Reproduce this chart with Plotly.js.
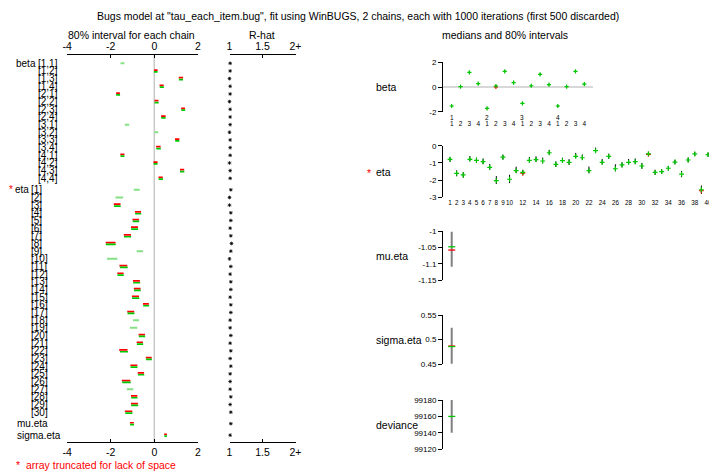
<!DOCTYPE html>
<html><head><meta charset="utf-8">
<script src="https://cdn.plot.ly/plotly-3.0.1.min.js"></script>
<style>html,body{margin:0;padding:0;background:#fff}#chart{width:709px;height:471px}</style>
</head><body><div id="chart"></div>
<script>
// ---------------- data ----------------
const betaIdx = ["1,1","1,2","1,3","1,4","2,1","2,2","2,3","2,4","3,1","3,2","3,3","3,4","4,1","4,2","4,3","4,4"];
// chain 1 (red) and chain 2 (green) 80% intervals, left panel
const betaRedLo   = [null,-0.01,1.12,0.24,-1.75,0.01,1.23,0.31,null,null,0.95,0.08,-1.56,-0.04,1.18,0.19];
const betaRedHi   = [null, 0.15,1.32,0.43,-1.58,0.19,1.41,0.52,null,null,1.15,0.29,-1.37, 0.15,1.37,0.39];
const betaGreenLo = [-1.55,-0.02,1.13,0.25,-1.75,0.01,1.24,0.32,-1.35,0.01,0.96,0.09,-1.55,-0.03,1.18,0.20];
const betaGreenHi = [-1.37, 0.15,1.32,0.44,-1.57,0.20,1.42,0.52,-1.15,0.18,1.15,0.30,-1.37, 0.15,1.38,0.40];

const etaIdx = ["1","2","3","4","5","6","7","8","9","10","11","12","13","14","15","16","17","18","19","20","21","22","23","24","25","26","27","28","29","30"];
const etaRedLo   = [null,null,-1.86,-0.89,-1.00,-1.07,-1.40,-2.23,null,null,-1.60,-1.70,-0.98,-0.94,-1.03,-0.52,-1.24,null,null,-0.72,-0.81,-1.61,-0.39,-1.10,-0.76,-1.49,null,-1.07,-1.07,-1.35];
const etaRedHi   = [null,null,-1.55,-0.61,-0.70,-0.75,-1.07,-1.78,null,null,-1.24,-1.41,-0.66,-0.63,-0.70,-0.25,-0.92,null,null,-0.43,-0.52,-1.23,-0.12,-0.78,-0.47,-1.10,null,-0.78,-0.75,-1.01];
const etaGreenLo = [-0.94,-1.78,-1.85,-0.88,-0.99,-1.06,-1.39,-2.22,-0.81,-2.17,-1.58,-1.69,-0.97,-0.93,-1.02,-0.51,-1.23,-0.98,-1.12,-0.71,-0.80,-1.58,-0.38,-1.09,-0.75,-1.47,-1.26,-1.06,-1.06,-1.33];
const etaGreenHi = [-0.67,-1.43,-1.54,-0.60,-0.69,-0.74,-1.06,-1.77,-0.52,-1.69,-1.22,-1.40,-0.65,-0.62,-0.69,-0.24,-0.91,-0.70,-0.78,-0.42,-0.51,-1.21,-0.11,-0.77,-0.46,-1.08,-0.96,-0.77,-0.74,-1.00];

const scalarNames = ["mu.eta","sigma.eta"];
const scalarRedLo   = [-1.12,0.45];
const scalarRedHi   = [-0.94,0.58];
const scalarGreenLo = [-1.11,0.46];
const scalarGreenHi = [-0.93,0.58];

const rhatBeta = [1.01,1.01,1.00,1.01,1.01,1.00,1.01,1.01,1.01,1.00,1.01,1.01,1.01,1.00,1.01,1.01];
const rhatEta  = [1.02,1.00,1.00,1.02,1.02,1.01,1.02,1.03,1.02,1.00,1.02,1.01,1.02,1.02,1.01,1.02,1.02,1.01,1.01,1.02,1.01,1.02,1.01,1.02,1.01,1.01,1.01,1.02,1.01,1.02];
const rhatScalar = [1.02,1.01];

// right panel: medians and 80% intervals
const betaMedGreen = [-1.54,0.03,1.19,0.27,-1.73,0.08,1.27,0.35,-1.32,0.10,1.03,0.19,-1.54,0.03,1.27,0.24];
const betaMedRed   = [-1.54,0.03,1.19,0.27,-1.73,0.00,1.27,0.35,-1.32,0.10,1.03,0.19,-1.54,0.03,1.27,0.24];
const betaIntLo    = [-1.62,-0.05,1.11,0.19,-1.81,0.00,1.19,0.27,-1.40,0.02,0.95,0.11,-1.62,-0.05,1.19,0.16];
const betaIntHi    = [-1.46,0.11,1.27,0.35,-1.65,0.16,1.35,0.43,-1.24,0.18,1.11,0.27,-1.46,0.11,1.35,0.32];

const etaMedGreen = [-0.79,-1.61,-1.70,-0.79,-0.85,-0.93,-1.26,-2.03,-0.67,-1.95,-1.45,-1.55,-0.85,-0.81,-0.89,-0.41,-1.08,-0.87,-0.97,-0.62,-0.70,-1.45,-0.29,-0.97,-0.62,-1.34,-1.12,-0.97,-0.93,-1.18,-0.47,-1.55,-1.51,-1.31,-0.95,-1.65,-0.83,-0.48,-2.56,-0.52];
const etaMedRed   = [-0.79,-1.61,-1.70,-0.79,-0.85,-0.93,-1.26,-2.03,-0.67,-1.95,-1.45,-1.60,-0.85,-0.81,-0.89,-0.41,-1.08,-0.87,-0.97,-0.62,-0.70,-1.45,-0.29,-0.97,-0.62,-1.34,-1.12,-0.97,-0.93,-1.18,-0.50,-1.55,-1.51,-1.31,-0.95,-1.65,-0.83,-0.48,-2.62,-0.52];
const etaIntLo = [-0.94,-1.78,-1.86,-0.89,-1.00,-1.07,-1.40,-2.23,-0.81,-2.17,-1.60,-1.70,-0.98,-0.94,-1.03,-0.52,-1.24,-0.98,-1.12,-0.72,-0.81,-1.61,-0.39,-1.10,-0.76,-1.49,-1.26,-1.07,-1.07,-1.35,-0.58,-1.70,-1.64,-1.44,-1.08,-1.83,-0.97,-0.60,-2.80,-0.64];
const etaIntHi = [-0.67,-1.43,-1.54,-0.60,-0.69,-0.74,-1.06,-1.77,-0.52,-1.69,-1.22,-1.40,-0.65,-0.62,-0.69,-0.24,-0.91,-0.70,-0.78,-0.42,-0.51,-1.21,-0.11,-0.77,-0.46,-1.08,-0.96,-0.77,-0.74,-1.00,-0.38,-1.40,-1.38,-1.18,-0.82,-1.47,-0.69,-0.36,-2.32,-0.40];
const etaTickLabels = ["1","2","3","4","5","6","7","8","9","10","12","14","16","18","20","22","24","26","28","30","32","34","36","38","40"];

const sumNames    = ["mu.eta","sigma.eta","deviance"];
const sumMedGreen = [-1.048,0.486,99160];
const sumMedRed   = [-1.058,0.487,99160];
const sumLo       = [-1.109,0.451,99140];
const sumHi       = [-1.002,0.524,99180];
const sumTicks    = [[-1.15,-1.1,-1.05,-1],[0.45,0.5,0.55],[99120,99140,99160,99180]];
const sumTickText = [["-1.15","-1.1","-1.05","-1"],["0.45","0.5","0.55"],["99120","99140","99160","99180"]];

// ---------------- layout helpers ----------------
const W = 709, H = 471;
const px = v => v / W;
const py = v => 1 - v / H;
const FONT = '"Liberation Sans", Arial, Helvetica, sans-serif';
const RED = '#ff0000', GREEN = '#00c800', LIGHT = '#86e086';

const betaRows = betaIdx.map((_, i) => i);
const etaRows = etaIdx.map((_, i) => 16.5 + i);
const scalarRows = [47, 48.5];

const rows = betaRows.concat(etaRows, scalarRows);
const redLo = betaRedLo.concat(etaRedLo, scalarRedLo);
const redHi = betaRedHi.concat(etaRedHi, scalarRedHi);
const grLo = betaGreenLo.concat(etaGreenLo, scalarGreenLo);
const grHi = betaGreenHi.concat(etaGreenHi, scalarGreenHi);
const rhat = rhatBeta.concat(rhatEta, rhatScalar);

function segs(lo, hi, keep, off) {
  const x = [], y = [];
  lo.forEach((l, i) => {
    if (l == null || !keep(i)) return;
    x.push(l, hi[i], null);
    y.push(rows[i] + off, rows[i] + off, null);
  });
  return { x, y };
}
const OFF = 0.12;
const sRed = segs(redLo, redHi, () => true, -OFF);
const sGr = segs(grLo, grHi, i => redLo[i] != null, OFF);
const sLight = segs(grLo, grHi, i => redLo[i] == null, 0);

// red medians are only visible where they differ from the green ones (green is drawn on top)
function visibleRed(pos, red, green) {
  const x = [], y = [];
  red.forEach((r, i) => { if (r !== green[i]) { x.push(pos[i]); y.push(r); } });
  return { x, y };
}

const traces = [];
const base = { hoverinfo: 'skip', cliponaxis: false, showlegend: false };
// placeholders so the top axes are drawn
traces.push(Object.assign({ x: [0], y: [0], xaxis: 'x2', yaxis: 'y', mode: 'markers', marker: { size: 1, opacity: 0 } }, base));
traces.push(Object.assign({ x: [1.5], y: [0], xaxis: 'x4', yaxis: 'y', mode: 'markers', marker: { size: 1, opacity: 0 } }, base));
traces.push(Object.assign({ x: sRed.x, y: sRed.y, xaxis: 'x', yaxis: 'y', mode: 'lines', line: { color: RED, width: 1.7 } }, base));
traces.push(Object.assign({ x: sGr.x, y: sGr.y, xaxis: 'x', yaxis: 'y', mode: 'lines', line: { color: GREEN, width: 1.7 } }, base));
traces.push(Object.assign({ x: sLight.x, y: sLight.y, xaxis: 'x', yaxis: 'y', mode: 'lines', line: { color: LIGHT, width: 2 } }, base));
traces.push(Object.assign({ x: rhat, y: rows, xaxis: 'x3', yaxis: 'y', mode: 'markers',
  marker: { symbol: 'asterisk-open', size: 3, color: 'black', line: { color: 'black', width: 0.8 } } }, base));

// beta right panel
const betaPos = betaIdx.map((_, i) => i + 1);
const betaRedVis = visibleRed(betaPos, betaMedRed, betaMedGreen);
traces.push(Object.assign({ x: betaPos, y: betaMedGreen, xaxis: 'x5', yaxis: 'y5', mode: 'markers', marker: { size: 1, opacity: 0 },
  error_y: { type: 'data', symmetric: false, array: betaIntHi.map((h, i) => h - betaMedGreen[i]), arrayminus: betaMedGreen.map((m, i) => m - betaIntLo[i]), width: 0, thickness: 1, color: 'black' } }, base));
traces.push(Object.assign({ x: betaRedVis.x, y: betaRedVis.y, xaxis: 'x5', yaxis: 'y5', mode: 'markers',
  marker: { symbol: 'cross-thin-open', size: 3, color: RED, line: { color: RED, width: 1.2 } } }, base));
traces.push(Object.assign({ x: betaPos, y: betaMedGreen, xaxis: 'x5', yaxis: 'y5', mode: 'markers',
  marker: { symbol: 'cross-thin-open', size: 3, color: GREEN, line: { color: GREEN, width: 1.2 } } }, base));

// eta right panel
const etaPos = etaMedGreen.map((_, i) => i + 1);
const etaRedVis = visibleRed(etaPos, etaMedRed, etaMedGreen);
traces.push(Object.assign({ x: etaPos, y: etaMedGreen, xaxis: 'x6', yaxis: 'y6', mode: 'markers', marker: { size: 1, opacity: 0 },
  error_y: { type: 'data', symmetric: false, array: etaIntHi.map((h, i) => h - etaMedGreen[i]), arrayminus: etaMedGreen.map((m, i) => m - etaIntLo[i]), width: 0, thickness: 1, color: 'black' } }, base));
traces.push(Object.assign({ x: etaRedVis.x, y: etaRedVis.y, xaxis: 'x6', yaxis: 'y6', mode: 'markers',
  marker: { symbol: 'cross-thin-open', size: 3.5, color: RED, line: { color: RED, width: 1.2 } } }, base));
traces.push(Object.assign({ x: etaPos, y: etaMedGreen, xaxis: 'x6', yaxis: 'y6', mode: 'markers',
  marker: { symbol: 'cross-thin-open', size: 3.5, color: GREEN, line: { color: GREEN, width: 1.2 } } }, base));

// summary panels
sumNames.forEach((n, k) => {
  const xa = 'x' + (7 + k), ya = 'y' + (7 + k);
  traces.push(Object.assign({ x: [1, 1], y: [sumLo[k], sumHi[k]], xaxis: xa, yaxis: ya, mode: 'lines', line: { color: '#808080', width: 2 } }, base));
  if (sumMedRed[k] !== sumMedGreen[k]) traces.push(Object.assign({ x: [1], y: [sumMedRed[k]], xaxis: xa, yaxis: ya, mode: 'markers',
    marker: { symbol: 'line-ew-open', size: 5, color: RED, line: { color: RED, width: 1.3 } } }, base));
  traces.push(Object.assign({ x: [1], y: [sumMedGreen[k]], xaxis: xa, yaxis: ya, mode: 'markers',
    marker: { symbol: 'line-ew-open', size: 5, color: GREEN, line: { color: GREEN, width: 1.3 } } }, base));
});

// ---------------- axes ----------------
const tf = (s) => ({ family: FONT, size: s, color: 'black' });
const hAxis = (domain, range, vals, text, side, extra) => Object.assign({
  domain, range, tickvals: vals, ticktext: text, side, showline: true, linecolor: 'black', linewidth: 1,
  ticks: 'inside', ticklen: 3, tickcolor: 'black', tickwidth: 1, showgrid: false, zeroline: false,
  tickfont: tf(10.5), tickangle: 0, fixedrange: true
}, extra);

const layout = {
  width: W, height: H, margin: { l: 0, r: 0, t: 0, b: 0 }, paper_bgcolor: 'white', plot_bgcolor: 'rgba(0,0,0,0)',
  showlegend: false, font: { family: FONT, color: 'black' },
  xaxis: hAxis([px(67.1), px(197.9)], [-4, 2], [-4, -2, 0, 2], ['-4', '-2', '0', '2'], 'bottom', { anchor: 'y', ticklabelstandoff: 1 }),
  xaxis2: hAxis([px(67.1), px(197.9)], [-4, 2], [-4, -2, 0, 2], ['-4', '-2', '0', '2'], 'top', { anchor: 'y', overlaying: 'x', ticklabelstandoff: 0 }),
  xaxis3: hAxis([px(229.5), px(295.5)], [1, 2], [1, 1.5, 2], ['1', '1.5', '2+'], 'bottom', { anchor: 'y', ticklabelstandoff: 1 }),
  xaxis4: hAxis([px(229.5), px(295.5)], [1, 2], [1, 1.5, 2], ['1', '1.5', '2+'], 'top', { anchor: 'y', overlaying: 'x3', ticklabelstandoff: 0 }),
  yaxis: { domain: [py(441.7), py(55)], range: [49.35, -1.08], anchor: 'x', visible: false, fixedrange: true },
  shapes: [
    { type: 'line', xref: 'x', yref: 'y domain', x0: 0, x1: 0, y0: 0, y1: 1, line: { color: '#c8c8c8', width: 1.5 }, layer: 'below' },
    { type: 'line', xref: 'x5 domain', yref: 'y5', x0: 0, x1: 1, y0: 0, y1: 0, line: { color: '#d8d8d8', width: 2 }, layer: 'below' }
  ],
  annotations: []
};

const vAxis = (domain, range, vals, text, anchor) => ({
  domain, range, tickvals: vals, ticktext: text, anchor, showline: true, linecolor: 'black', linewidth: 1,
  ticks: 'outside', ticklen: 4, tickcolor: 'black', tickwidth: 1, showgrid: false, zeroline: false,
  tickfont: tf(8), fixedrange: true
});

const rightX = [px(443), px(593)];
const rightXRange = [0.016, 16.98];
layout.xaxis5 = { domain: rightX, range: rightXRange, anchor: 'y5', showline: false, showgrid: false, zeroline: false, ticks: '',
  tickvals: betaPos, ticktext: betaIdx.map(s => s.split(',')[1]), tickfont: tf(6.5), tickangle: 0, ticklabelstandoff: 7, fixedrange: true };
layout.yaxis5 = vAxis([py(111.7), py(62.3)], [-2, 2], [-2, 0, 2], ['-2', '0', '2'], 'x5');

layout.xaxis6 = { domain: [px(443), 1], range: [-0.06, 40.15], anchor: 'y6', showline: false, showgrid: false, zeroline: false, ticks: '',
  tickvals: etaTickLabels.map(Number), ticktext: etaTickLabels, tickfont: tf(6.3), tickangle: 0, ticklabelstandoff: 0,
  ticklabeloverflow: 'allow', fixedrange: true };
layout.yaxis6 = vAxis([py(197.3), py(145.7)], [-3, 0], [-3, -2, -1, 0], ['-3', '-2', '-1', '0'], 'x6');

const sumDom = [[280.3, 231], [364.3, 315], [449.3, 400]];
sumNames.forEach((n, k) => {
  layout['xaxis' + (7 + k)] = { domain: rightX, range: rightXRange, anchor: 'y' + (7 + k), visible: false, fixedrange: true };
  layout['yaxis' + (7 + k)] = vAxis([py(sumDom[k][0]), py(sumDom[k][1])], [sumTicks[k][0], sumTicks[k][sumTicks[k].length - 1]], sumTicks[k], sumTickText[k], 'x' + (7 + k));
});

// ---------------- text ----------------
const ann = (text, x, y, opts) => Object.assign({ text, x: px(x), y: py(y), xref: 'paper', yref: 'paper', showarrow: false,
  xanchor: 'center', yanchor: 'middle', borderpad: 0, font: tf(10.5) }, opts);
const A = layout.annotations;
A.push(ann('Bugs model at "tau_each_item.bug", fit using WinBUGS, 2 chains, each with 1000 iterations (first 500 discarded)', 357.7, 16, {}));
A.push(ann('80% interval for each chain', 131, 35, {}));
A.push(ann('R-hat', 262, 35, {}));
A.push(ann('medians and 80% intervals', 504.5, 35, {}));
A.push(ann('*  array truncated for lack of space', 15, 465, { xanchor: 'left', font: { family: FONT, size: 10.5, color: RED } }));

// left row labels
const rowLab = (text, x, row, xanchor, color) => ({ text, x: px(x), y: row, xref: 'paper', yref: 'y', showarrow: false,
  xanchor, yanchor: 'middle', borderpad: 0, font: { family: FONT, size: 10, color: color || 'black' } });
A.push(rowLab('beta', 36.8, betaRows[0], 'right'));
betaIdx.forEach((s, i) => A.push(rowLab('[' + s + ']', 36.8, betaRows[i], 'left')));
A.push(rowLab('*', 11, etaRows[0], 'center', RED));
A.push(rowLab('eta', 30.3, etaRows[0], 'right'));
etaIdx.forEach((s, i) => A.push(rowLab('[' + s + ']', 30.3, etaRows[i], 'left')));
scalarNames.forEach((s, i) => A.push(rowLab(s, 15.5, scalarRows[i], 'left')));

// right panel labels
A.push(ann('beta', 375, 87, { xanchor: 'left' }));
A.push(ann('*', 369, 173, { font: { family: FONT, size: 10.5, color: RED } }));
A.push(ann('eta', 375, 172, { xanchor: 'left' }));
const sumLabY = [256, 340, 425];
sumNames.forEach((s, k) => A.push(ann(s, 375, sumLabY[k], { xanchor: 'left' })));
// first-index labels above the beta tick labels
betaIdx.forEach((s, i) => {
  const [a, b] = s.split(',');
  if (b === '1') A.push({ text: a, x: betaPos[i], y: py(117.3), xref: 'x5', yref: 'paper', showarrow: false,
    xanchor: 'center', yanchor: 'middle', borderpad: 0, font: tf(6.5) });
});

Plotly.newPlot('chart', traces, layout, { staticPlot: true, displayModeBar: false });
</script>
</body></html>
